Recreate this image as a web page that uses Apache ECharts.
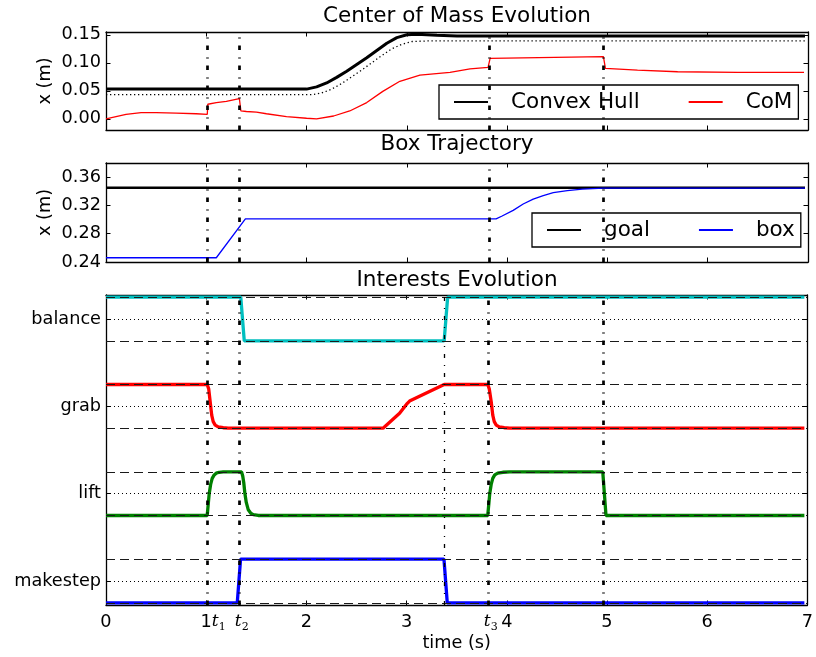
<!DOCTYPE html>
<html>
<head>
<meta charset="utf-8">
<script src="https://cdn.jsdelivr.net/npm/echarts@6/dist/echarts.min.js"></script>
<style>
  html, body { margin: 0; padding: 0; background: #fff; }
  #main { width: 816px; height: 657px; }
</style>
</head>
<body>
<div id="main"></div>
<script>
// 事件时刻 (竖直点划线)
const tEvents = [1.01, 1.335, 3.82, 4.965];
const tBalanceBack = 3.375;

// 质心图: 凸包 / 凸包内侧点线 / 质心
const hullT = [0, 2.0, 2.1, 2.2, 2.3, 2.4, 2.5, 2.6, 2.7, 2.8, 2.9, 3.0, 3.1, 3.3, 3.5, 6.97];
const hullX = [0.053, 0.053, 0.057, 0.064, 0.074, 0.085, 0.097, 0.109, 0.122, 0.135, 0.145, 0.150, 0.151, 0.149, 0.148, 0.148];
const innerT = [0, 2.05, 2.15, 2.25, 2.35, 2.45, 2.55, 2.65, 2.75, 2.85, 2.95, 3.05, 3.2, 6.97];
const innerX = [0.043, 0.043, 0.046, 0.053, 0.063, 0.075, 0.087, 0.100, 0.113, 0.125, 0.133, 0.138, 0.139, 0.139];
const comT = [0, 0.1, 0.2, 0.35, 0.5, 0.7, 0.9, 1.01, 1.015, 1.1, 1.2, 1.33, 1.345, 1.4, 1.5, 1.6, 1.8, 2.0, 2.1,
  2.27, 2.43, 2.6, 2.76, 2.93, 3.13, 3.43, 3.63, 3.81, 3.83, 4.96, 4.98, 5.3, 5.7, 6.3, 6.96];
const comX = [0.0, 0.004, 0.008, 0.011, 0.011, 0.010, 0.009, 0.008, 0.026, 0.029, 0.031, 0.036, 0.014, 0.013, 0.012, 0.009, 0.004, 0.001, 0.000,
  0.005, 0.014, 0.029, 0.049, 0.067, 0.078, 0.083, 0.089, 0.092, 0.108, 0.111, 0.090, 0.087, 0.084, 0.083, 0.083];

// 箱子轨迹
const goalT = [0, 6.97];
const goalX = [0.345, 0.345];
const boxT = [0, 1.1, 1.39, 3.89, 3.95, 4.06, 4.16, 4.26, 4.36, 4.46, 4.6, 4.75, 4.96, 6.97];
const boxX = [0.246, 0.246, 0.301, 0.301, 0.305, 0.313, 0.322, 0.329, 0.334, 0.338, 0.341, 0.343, 0.3445, 0.3445];

// 兴趣演化 (每条 0~1)
const balanceT = [0, 1.345, 1.38, 3.375, 3.41, 6.97];
const balanceV = [1, 1, 0, 0, 1, 1];
const grabT = [0, 1.01, 1.025, 1.04, 1.055, 1.07, 1.09, 1.12, 1.17, 1.22, 2.765, 2.93, 3.0, 3.03, 3.375,
  3.81, 3.825, 3.845, 3.86, 3.875, 3.895, 3.925, 3.975, 4.03, 6.97];
const grabV = [1, 1, 0.9, 0.6, 0.3, 0.15, 0.07, 0.03, 0.01, 0, 0, 0.34, 0.55, 0.62, 1,
  1, 0.9, 0.6, 0.3, 0.15, 0.07, 0.03, 0.01, 0, 0];
const liftT = [0, 1.01, 1.02, 1.03, 1.045, 1.06, 1.08, 1.1, 1.13, 1.17, 1.353, 1.365, 1.375, 1.386, 1.4, 1.42, 1.445, 1.47, 1.52,
  3.81, 3.82, 3.83, 3.845, 3.86, 3.88, 3.91, 3.96, 4.03, 4.958, 4.99, 6.97];
const liftV = [0, 0, 0.25, 0.5, 0.72, 0.85, 0.93, 0.97, 0.99, 1, 1, 0.9, 0.75, 0.51, 0.3, 0.13, 0.05, 0.02, 0,
  0, 0.25, 0.5, 0.72, 0.85, 0.93, 0.97, 0.99, 1, 1, 0, 0];
const makestepT = [0, 1.31, 1.343, 3.373, 3.406, 6.97];
const makestepV = [0, 0, 1, 1, 0, 0];

// 刻度
const xLabelVals = [0, 1, 1.125, 1.355, 2, 3, 3.84, 4, 5, 6, 7];
const xLabelText = ["0", "1", "{t|t}{s|1}", "{t|t}{s|2}", "2", "3", "{t|t}{s|3}", "4", "5", "6", "7"];
const xTickVals = [0, 1, 2, 3, 4, 5, 6, 7];
const comTicks = [0, 0.05, 0.1, 0.15];
const boxTicks = [0.24, 0.28, 0.32, 0.36];
const interestNames = ["makestep", "lift", "grab", "balance"];
const interestTicks = [0.5, 2.5, 4.5, 6.5];

const FONT = "DejaVu Sans";
const TICK_FS = 17.7;

function pairs(ts, vs, off) {
  return ts.map(function (t, i) { return [t, vs[i] + (off || 0)]; });
}

var chart = echarts.init(document.getElementById("main"));

// 网格位置
var grids = [
  { left: 106, top: 32, width: 702, height: 98 },
  { left: 106, top: 163, width: 702, height: 99 },
  { left: 106, top: 295, width: 702, height: 310 },
];

var axisLineStyle = { show: true, onZero: false, lineStyle: { color: "#000", width: 1.3 } };
var tickStyle = { show: true, inside: true, length: 4.5, lineStyle: { color: "#000", width: 1 } };

var xAxes = [];
var yAxes = [];
grids.forEach(function (g, i) {
  var last = i === 2;
  xAxes.push({
    type: "value", gridIndex: i, position: "bottom", min: 0, max: 7, interval: 1,
    axisLine: axisLineStyle,
    axisTick: Object.assign({}, tickStyle, { customValues: xTickVals }),
    splitLine: { show: false },
    name: last ? "time (s)" : "",
    nameLocation: "middle", nameGap: 28,
    nameTextStyle: { fontFamily: FONT, fontSize: TICK_FS, color: "#000" },
    axisLabel: {
      show: last, customValues: xLabelVals, margin: 8,
      fontFamily: FONT, fontSize: TICK_FS, color: "#000",
      formatter: function (v) {
        for (var k = 0; k < xLabelVals.length; k++) {
          if (Math.abs(v - xLabelVals[k]) < 1e-6) return xLabelText[k];
        }
        return "";
      },
      rich: {
        t: { fontFamily: "DejaVu Serif", fontStyle: "italic", fontSize: 17, color: "#000", lineHeight: 20, verticalAlign: "top" },
        s: { fontFamily: "DejaVu Serif", fontSize: 11, color: "#000", lineHeight: 12, verticalAlign: "bottom" },
      },
    },
  });
  xAxes.push({
    type: "value", gridIndex: i, position: "top", min: 0, max: 7, interval: 1,
    axisLine: axisLineStyle, axisTick: tickStyle, splitLine: { show: false }, axisLabel: { show: false },
  });
});

// y 轴
var yDefs = [
  { min: -0.02, max: 0.155, ticks: comTicks, fmt: function (v) { return v.toFixed(2); }, name: "x (m)" },
  { min: 0.24, max: 0.38, ticks: boxTicks, fmt: function (v) { return v.toFixed(2); }, name: "x (m)" },
  { min: -0.05, max: 7.05, ticks: interestTicks, fmt: function (v) { return interestNames[Math.round((v - 0.5) / 2)]; }, name: "" },
];
yDefs.forEach(function (d, i) {
  yAxes.push({
    type: "value", gridIndex: i, position: "left", min: d.min, max: d.max,
    axisLine: axisLineStyle,
    axisTick: Object.assign({}, tickStyle, { customValues: d.ticks }),
    splitLine: { show: false },
    axisLabel: { customValues: d.ticks, formatter: d.fmt, margin: 5, fontFamily: FONT, fontSize: TICK_FS, color: "#000" },
    name: d.name, nameLocation: "middle", nameGap: 52, nameMoveOverlap: false,
    nameTextStyle: { fontFamily: FONT, fontSize: TICK_FS, color: "#000" },
  });
  yAxes.push({
    type: "value", gridIndex: i, position: "right", min: d.min, max: d.max,
    axisLine: axisLineStyle,
    axisTick: Object.assign({}, tickStyle, { customValues: d.ticks }),
    splitLine: { show: false }, axisLabel: { show: false },
  });
});

// 竖直事件线
var eventLine = { color: "#000", width: 2.7, type: [4.5, 7, 1, 7.5] };
function eventMarks(withBalance) {
  var data = tEvents.map(function (t) { return { xAxis: t }; });
  if (withBalance) {
    data.push({ xAxis: tBalanceBack, lineStyle: { color: "#000", width: 1.3, type: [4, 7, 1, 7] } });
  }
  return {
    silent: true, symbol: ["none", "none"], label: { show: false },
    lineStyle: eventLine, data: data, animation: false,
  };
}

// 兴趣图水平参考线
var refData = [];
for (var k = 0; k <= 7; k++) {
  refData.push({ yAxis: k, lineStyle: { color: "#1a1a1a", width: 1, type: [9, 5] } });
}
interestTicks.forEach(function (v) {
  refData.push({ yAxis: v, lineStyle: { color: "#000", width: 1, type: [1, 3] } });
});

function line(name, data, xi, yi, color, width, type, z) {
  return {
    name: name, type: "line", xAxisIndex: xi, yAxisIndex: yi, data: data,
    symbol: "none", showSymbol: false, smooth: false, z: z || 2,
    lineStyle: { color: color, width: width, type: type || "solid" },
    itemStyle: { color: color }, emphasis: { disabled: true },
  };
}

var series = [
  line("Convex Hull", pairs(hullT, hullX), 0, 0, "#000", 3),
  line("inner", pairs(innerT, innerX), 0, 0, "#000", 1.3, [1.3, 2.7]),
  line("CoM", pairs(comT, comX), 0, 0, "#ff0000", 1.3),
  Object.assign(line("ev0", [], 0, 0, "#000", 1), { markLine: eventMarks(false) }),

  line("goal", pairs(goalT, goalX), 2, 2, "#000", 2.7),
  line("box", pairs(boxT, boxX), 2, 2, "#0000ff", 1.3),
  Object.assign(line("ev1", [], 2, 2, "#000", 1), { markLine: eventMarks(false) }),

  line("balance", pairs(balanceT, balanceV, 6), 4, 4, "#00bfbf", 3.3),
  line("grab", pairs(grabT, grabV, 4), 4, 4, "#ff0000", 3.3),
  line("lift", pairs(liftT, liftV, 2), 4, 4, "#008000", 3.3),
  line("makestep", pairs(makestepT, makestepV, 0), 4, 4, "#0000ff", 3.3),
  Object.assign(line("ref", [], 4, 4, "#000", 1, "solid", 5), {
    markLine: { silent: true, symbol: ["none", "none"], label: { show: false }, data: refData, animation: false },
  }),
  Object.assign(line("ev2", [], 4, 4, "#000", 1, "solid", 6), { markLine: eventMarks(true) }),
];

var legendBase = {
  orient: "horizontal", itemWidth: 34, itemHeight: 14, itemGap: 48,
  padding: [6, 6, 6, 14], borderColor: "#000", borderWidth: 1.3, borderRadius: 0,
  backgroundColor: "#fff", selectedMode: false,
  itemStyle: { opacity: 0 },
  textStyle: { fontFamily: FONT, fontSize: 21.5, color: "#000", padding: [0, 0, 0, 18] },
};

var option = {
  animation: false,
  backgroundColor: "#fff",
  grid: grids,
  xAxis: xAxes,
  yAxis: yAxes,
  legend: [
    Object.assign({}, legendBase, { data: ["Convex Hull", "CoM"], left: 439, top: 85 }),
    Object.assign({}, legendBase, { data: ["goal", "box"], left: 532, top: 213 }),
  ],
  graphic: [
    { type: "text", x: 457, y: 16, style: { text: "Center of Mass Evolution", font: "21.5px 'DejaVu Sans'", fill: "#000", align: "center", verticalAlign: "middle" } },
    { type: "text", x: 457, y: 144, style: { text: "Box Trajectory", font: "21.5px 'DejaVu Sans'", fill: "#000", align: "center", verticalAlign: "middle" } },
    { type: "text", x: 457, y: 280, style: { text: "Interests Evolution", font: "21.5px 'DejaVu Sans'", fill: "#000", align: "center", verticalAlign: "middle" } },
  ],
  series: series,
};

chart.setOption(option);
</script>
</body>
</html>
